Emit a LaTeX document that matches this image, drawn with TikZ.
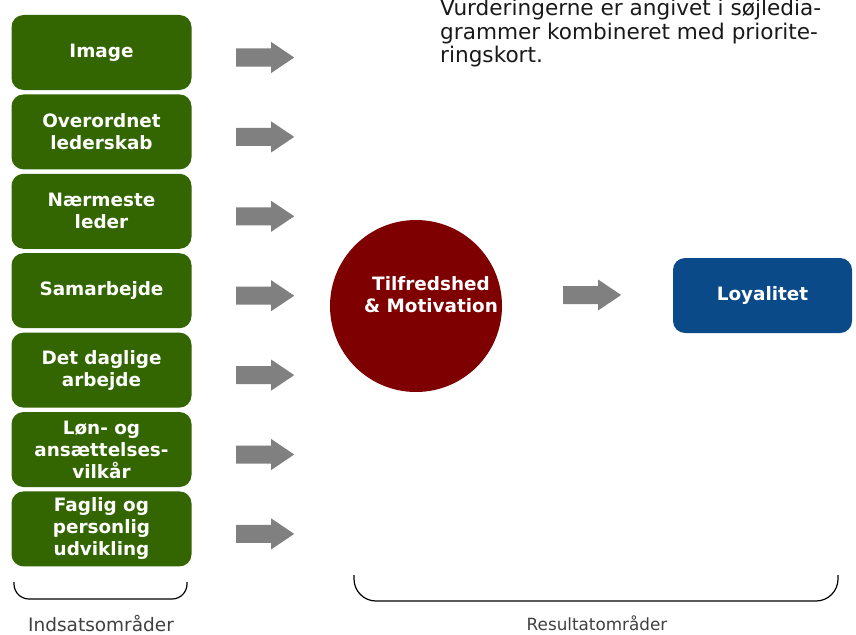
\documentclass[tikz,border=0pt]{standalone}
\usepackage{fontspec}
\setmainfont{DejaVu Sans}
\usetikzlibrary{positioning}
\definecolor{areagreen}{HTML}{336600}
\definecolor{resultred}{HTML}{7F0000}
\definecolor{resultblue}{HTML}{0B4A88}
\definecolor{arrowgray}{HTML}{808080}
\definecolor{labelgray}{HTML}{404040}
\begin{document}
\begin{tikzpicture}[x=1pt,y=-1pt,
  area/.style={rectangle, rounded corners=12pt, fill=areagreen, text=white,
    minimum width=180pt, minimum height=75pt, inner sep=0pt, align=center,
    font=\fontsize{18.4}{22}\selectfont\bfseries},
  resulttext/.style={text=white, align=center, inner sep=0pt,
    font=\fontsize{18.4}{22}\selectfont\bfseries},
  blockarrow/.pic={\fill[arrowgray] (0,-9) -- (35,-9) -- (35,-15.5) -- (58,0)
    -- (35,15.5) -- (35,9) -- (0,9) -- cycle;}]
\useasboundingbox (0,0) rectangle (856,634);
% note at the top
\node[anchor=base west, align=left, inner sep=0pt, text=black!90,
  font=\fontsize{21.6}{23.8}\selectfont] (note) at (440,63)
  {Vurderingerne er angivet i søjledia-\\grammer kombineret med priorite-\\ringskort.};
% input areas
\node[area] (area1) at (101.5,52.5) {Image};
\node[area, below=4pt of area1] (area2) {Overordnet\\lederskab};
\node[area, below=4pt of area2] (area3) {Nærmeste\\leder};
\node[area, below=4pt of area3] (area4) {Samarbejde};
\node[area, below=4pt of area4] (area5) {Det daglige\\arbejde};
\node[area, below=4pt of area5] (area6) {Løn- og\\ansættelses-\\vilkår};
\node[area, below=4pt of area6] (area7) {Faglig og\\personlig\\udvikling};
\foreach \i in {1,...,7}
  \pic at ([xshift=44.5pt,yshift=-5pt]area\i.east) {blockarrow};
% result areas
\node[circle, fill=resultred, minimum size=172pt, inner sep=0pt] (motiv) at (416,306) {};
\node[resulttext] (motivtext) at (431,295) {Tilfredshed\\\& Motivation};
\pic at ([xshift=65pt]motivtext.east |- 0,295) {blockarrow};
\node[rectangle, rounded corners=12pt, fill=resultblue, minimum width=179pt,
  minimum height=75pt, resulttext] (loyal) at (762.5,295.5) {Loyalitet};
% brackets and captions
\draw[line width=1.2pt, rounded corners=15pt] (14,582) -- (14,599) -- (187,599) -- (187,582);
\draw[line width=1.2pt, rounded corners=22pt] (354,575) -- (354,601) -- (838,601) -- (838,575);
\node[anchor=base, text=labelgray, font=\fontsize{18.5}{22}\selectfont] (inputlabel)
  at (101,631) {Indsatsområder};
\node[anchor=base, text=labelgray, font=\fontsize{16.8}{20}\selectfont] (resultlabel)
  at (597,630) {Resultatområder};
\end{tikzpicture}
\end{document}
